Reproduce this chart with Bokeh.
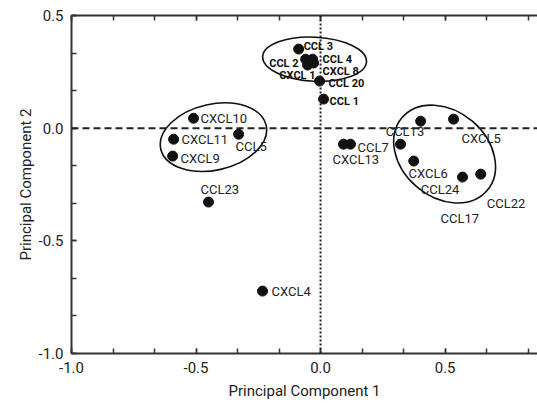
from bokeh.plotting import figure
from bokeh.models import (ColumnDataSource, Range1d, LinearAxis, FixedTicker,
                          PrintfTickFormatter, CustomJSTickFormatter, Span, Title)
from bokeh.core.properties import value
from bokeh.embed import file_html
from bokeh.resources import INLINE

# ---- data ----
main_names = ["CXCL10", "CXCL11", "CXCL9", "CCL5", "CCL23", "CXCL4", "CCL7",
              "CXCL13", "CCL13", "CXCL5", "CXCL6", "CCL24", "CCL22", "CCL17"]
main_pc1 = [-0.510, -0.590, -0.594, -0.329, -0.450, -0.233, 0.120,
            0.092, 0.402, 0.534, 0.321, 0.374, 0.643, 0.570]
main_pc2 = [0.044, -0.049, -0.124, -0.027, -0.328, -0.723, -0.071,
            -0.071, 0.031, 0.040, -0.071, -0.146, -0.204, -0.217]

top_names = ["CCL 3", "CCL 2", "CCL 4", "CXCL 1", "CXCL 8", "CCL 20", "CCL 1"]
top_pc1 = [-0.088, -0.060, -0.032, -0.052, -0.028, -0.004, 0.012]
top_pc2 = [0.351, 0.306, 0.306, 0.280, 0.289, 0.209, 0.129]

cluster_pc1 = [-0.024, -0.430, 0.498]
cluster_pc2 = [0.306, -0.040, -0.115]

x_ticks = [-1.0, -0.5, 0.0, 0.5]
y_ticks = [-1.0, -0.5, 0.0, 0.5]

# ---- label placement (screen px) ----
main_dx = [7, 8, 8, -3, -8, 9, 7, -11, -35, 8, 8, 7, 6, -22]
main_dy = [0, 0, 2, 12, -13, 0, 3, 15, 10, 19, 29, 28, 29, 41]
top_dx = [5, -7, 10, 8, 9, 9, 6]
top_dy = [-3, 4, 0, 10, 8, 2, 2]
top_align = ["left", "right", "left", "right", "left", "left", "left"]

FONT = "Roboto"
INK = "#222222"

p = figure(width=537, height=404, output_backend="svg", toolbar_location=None,
           x_range=Range1d(-1.0, 0.871), y_range=Range1d(-1.0, 0.5),
           min_border_left=71, min_border_right=0, min_border_top=15,
           min_border_bottom=51, x_axis_location=None, y_axis_location=None)
p.grid.visible = False
p.outline_line_color = None
p.background_fill_color = "white"

sixth = 1.0 / 6.0
minor = [-1.0 + i * sixth for i in range(12)]
yminor = [-1.0 + i * sixth for i in range(10)]


def style_axis(ax):
    ax.axis_line_color = "#333333"
    ax.axis_line_width = 2
    ax.major_tick_line_color = "#333333"
    ax.minor_tick_line_color = "#333333"
    ax.major_tick_line_width = 1.5
    ax.minor_tick_line_width = 1.5
    ax.major_tick_in = 5
    ax.major_tick_out = 0
    ax.minor_tick_in = 5
    ax.minor_tick_out = 0
    ax.formatter = PrintfTickFormatter(format="%.1f")
    ax.major_label_text_font = FONT
    ax.major_label_text_font_size = "15px"
    ax.major_label_text_color = INK
    ax.axis_label_text_font = FONT
    ax.axis_label_text_font_size = "15px"
    ax.axis_label_text_font_style = "normal"
    ax.axis_label_text_color = INK


xb = LinearAxis(ticker=FixedTicker(ticks=x_ticks, minor_ticks=minor),
                axis_label="Principal Component 1")
style_axis(xb)
xb.major_label_standoff = 8
xb.axis_label_standoff = 6
p.add_layout(xb, "below")

xt = LinearAxis(ticker=FixedTicker(ticks=x_ticks, minor_ticks=minor))
style_axis(xt)
xt.formatter = CustomJSTickFormatter(code="return ''")
xt.major_label_standoff = 0
p.add_layout(xt, "above")

yl = LinearAxis(ticker=FixedTicker(ticks=y_ticks, minor_ticks=yminor))
style_axis(yl)
yl.major_label_standoff = 8
p.add_layout(yl, "left")

# y-axis title, sitting slightly above the frame centre as in the reference
p.add_layout(Title(text="Principal Component 2", align="center", offset=16,
                   text_font=FONT, text_font_size="15px",
                   text_font_style="normal", text_color=INK,
                   standoff=2), "left")

# reference lines
p.add_layout(Span(location=0, dimension="width", line_color=INK,
                  line_width=2, line_dash="7 4"))
p.add_layout(Span(location=0, dimension="height", line_color=INK,
                  line_width=2, line_dash="2 2"))

# cluster outlines
csrc = ColumnDataSource(dict(x=cluster_pc1, y=cluster_pc2,
                             w=[104, 108, 112], h=[44, 66, 86],
                             a=[-0.05, 0.22, -0.71]))
p.ellipse(x="x", y="y", width="w", height="h", angle="a", source=csrc,
          width_units="screen", height_units="screen",
          fill_color=None, line_color="#111111", line_width=1.6)

# points
p.scatter(main_pc1, main_pc2, size=10, color="#111111")
p.scatter(top_pc1, top_pc2, size=10, color="#111111")

msrc = ColumnDataSource(dict(x=main_pc1, y=main_pc2, t=main_names,
                             dx=main_dx, dy=main_dy))
p.text(x="x", y="y", text="t", x_offset="dx", y_offset="dy", source=msrc,
       text_font=value(FONT), text_font_size="13px", text_color=INK,
       text_baseline="middle", text_align="left")

tsrc = ColumnDataSource(dict(x=top_pc1, y=top_pc2, t=top_names,
                             dx=top_dx, dy=top_dy, al=top_align))
p.text(x="x", y="y", text="t", x_offset="dx", y_offset="dy", source=tsrc,
       text_font=value(FONT), text_font_size="11px", text_font_style="bold",
       text_color="#111111", text_baseline="middle", text_align="al")

open("out.html", "w").write(file_html(p, INLINE))
